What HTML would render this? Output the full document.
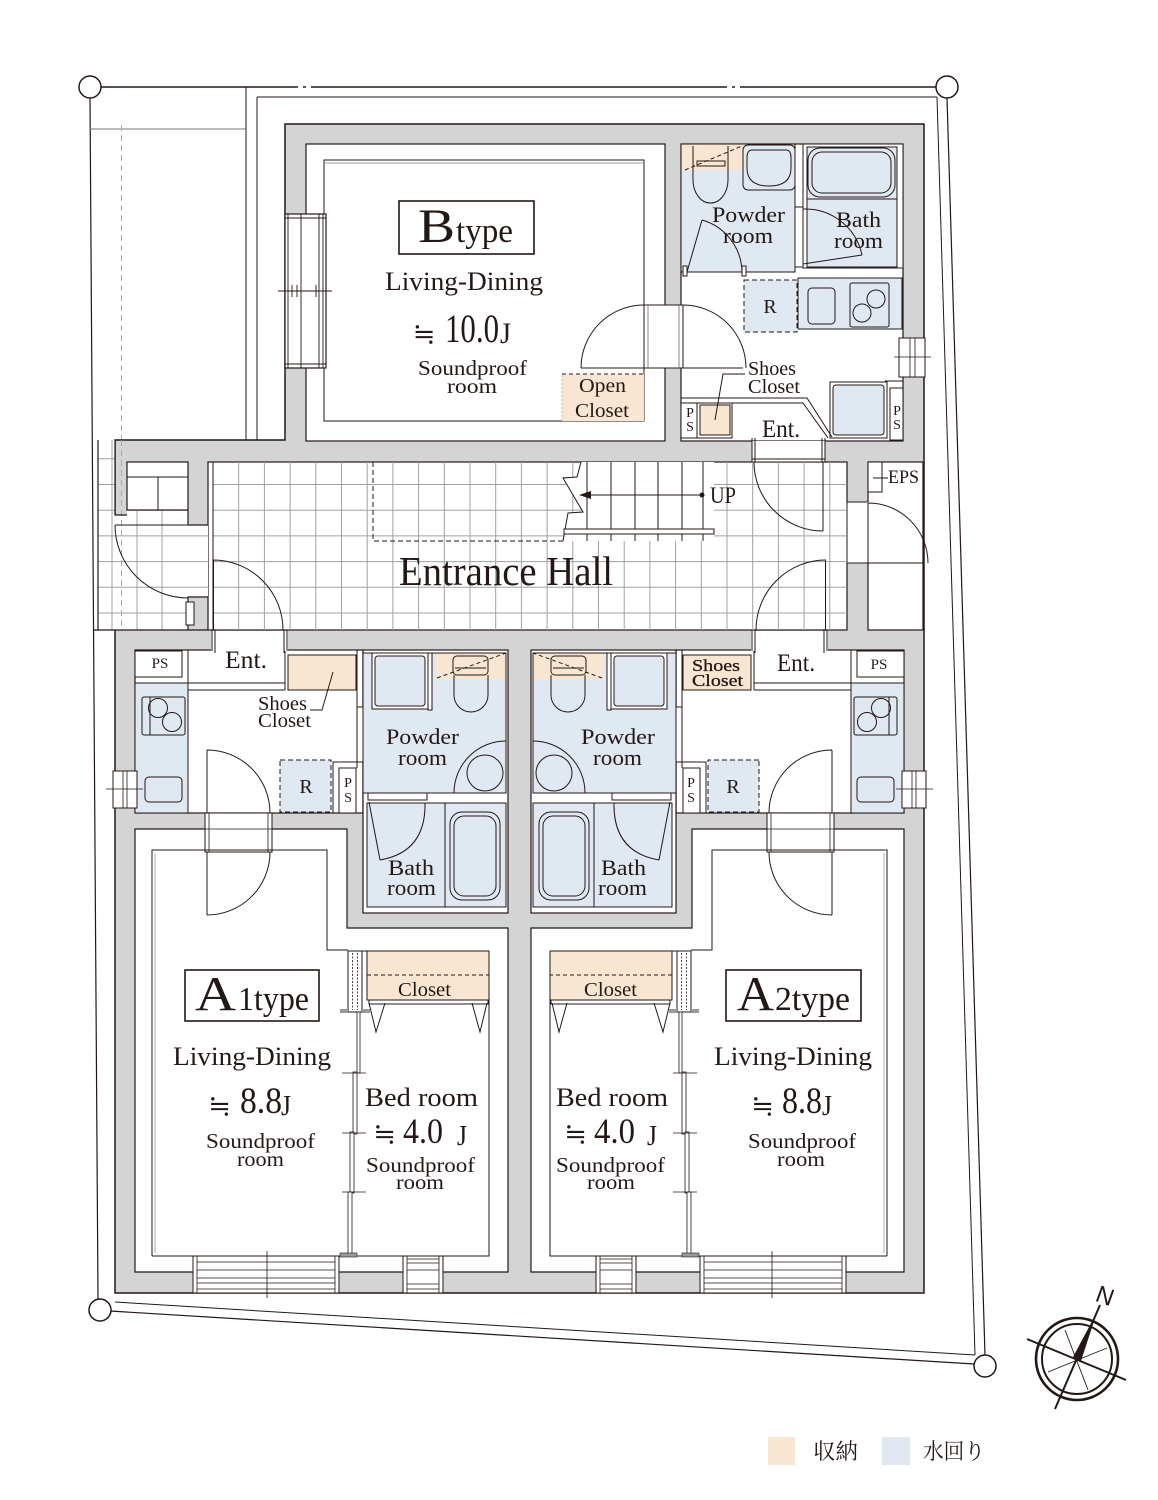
<!DOCTYPE html>
<html><head><meta charset="utf-8"><title>Floor plan</title>
<style>
html,body{margin:0;padding:0;background:#fff;width:1158px;height:1500px;overflow:hidden}
svg{display:block}
text{font-family:"Liberation Serif","Noto Serif CJK SC",serif;fill:#231815}
.eq{font-family:"Noto Serif CJK SC","DejaVu Serif",serif}
</style></head><body>
<svg xmlns="http://www.w3.org/2000/svg" width="1158" height="1500" viewBox="0 0 1158 1500">
<defs>
<clipPath id="hallclip"><rect x="213" y="462" width="634" height="168"/></clipPath>
<clipPath id="leftclip"><polygon points="98,440 115,440 115,515 127,515 127,510 188,510 188,525 208,525 208,597 188,597 188,630 98,630"/></clipPath>
</defs>

<!-- SITE LINES -->
<g fill="none" stroke="#231815">
<path d="M101,87 H298 M303,87 H306 M311,87 H727 M732,87 H735 M740,87 H936" stroke-width="1.4"/>
<path d="M257,97 H937" stroke-width="1"/>
<path d="M90,98 L98,1299" stroke-width="1.2"/>
<path d="M246,87 V440 M257,97 V440" stroke-width="1"/>
<path d="M90,129 H246" stroke="#777" stroke-width="1"/>
<path d="M121.5,125 V630" stroke="#aaa" stroke-dasharray="6,4" stroke-width="1"/>
<path d="M115,1302 L975,1355" stroke-width="1"/>
<path d="M110,1311 L974,1364" stroke-width="1.2"/>
<path d="M937,97 L975,1355" stroke-width="1"/>
<path d="M947,98 L985,1355" stroke-width="1.2"/>
</g>
<g fill="#fff" stroke="#231815" stroke-width="1.5">
<circle cx="90" cy="87" r="11"/>
<circle cx="947" cy="87" r="11"/>
<circle cx="100" cy="1310" r="11"/>
<circle cx="985" cy="1366" r="11"/>
</g>

<!-- BUILDING GREY -->
<path d="M285,124 H924 V1293 H115 V440 H285 Z" fill="#d4d4d5" stroke="#231815" stroke-width="1.5"/>

<!-- B UNIT ROOMS -->
<g fill="#fff" stroke="#231815" stroke-width="1.2">
<rect x="306" y="144" width="359" height="297"/>
<rect x="681" y="144" width="222" height="297"/>
</g>

<!-- B living lining -->
<rect x="324" y="160" width="320" height="261" fill="none" stroke="#231815" stroke-width="1"/>
<line x1="324" y1="163" x2="644" y2="163" stroke="#999" stroke-width="1"/>
<!-- open closet -->
<rect x="562" y="374" width="82" height="47" fill="#f8e6d2"/>
<path d="M562,374 H644" stroke="#231815" stroke-dasharray="4,3" fill="none"/>
<path d="M562,375 V421" stroke="#bbb" stroke-dasharray="2,2" fill="none"/>
<!-- B left window -->
<rect x="285" y="214" width="41" height="154" fill="#fff" stroke="#231815" stroke-width="1.2"/>
<path d="M288,214 V368 M301,214 V368 M319,214 V368 M323,214 V368 M285,218 H326 M285,364 H326 M278,291 H332 M292,285 V297 M297,285 V297 M316,285 V297" stroke="#231815" stroke-width="0.9" fill="none"/>
<!-- B door living/wet -->
<rect x="644" y="305" width="39" height="63" fill="#fff" stroke="#231815" stroke-width="1"/>
<path d="M648,305 V368 M679,305 V368" stroke="#666" stroke-width="0.8" fill="none"/>
<path d="M644,368 H581 M581,368 A63,63 0 0 1 644,305 M683,368 H743 M683,305 A63,63 0 0 1 746,368" stroke="#231815" stroke-width="1" fill="none"/>

<!-- B wet -->
<g stroke="#231815" stroke-width="1" fill="none">
<rect x="681" y="144" width="114" height="128" fill="#e0e8f2"/>
<rect x="681.6" y="144.6" width="61" height="25.4" fill="#f8e6d2" stroke="none"/>
<path d="M693,146 V180 A17.5,23 0 0 0 728,180 V146"/>
<rect x="697" y="161" width="28" height="5"/>
<path d="M685,170 L742,146" stroke-dasharray="4,3"/>
<rect x="743" y="145" width="52" height="45" rx="5"/>
<path d="M752,150 H786 Q791,150 791,158 V168 Q791,186 769,186 Q747,186 747,168 V158 Q747,150 752,150 Z"/>
<path d="M687,272 L702,220 M702,220 A55,55 0 0 1 742,272"/>
<rect x="683" y="266" width="4" height="10" fill="#fff"/>
<rect x="742" y="266" width="4" height="10" fill="#fff"/>
<rect x="803" y="144" width="100" height="124" fill="#fff"/>
<rect x="807" y="147" width="90" height="120" fill="#e0e8f2"/>
<rect x="808" y="148" width="87" height="49" rx="12"/>
<rect x="812" y="152" width="79" height="41" rx="10"/>
<line x1="807" y1="199" x2="897" y2="199"/>
<rect x="795" y="207" width="8" height="60" fill="#fff"/>
<path d="M803,264 L862,255 M803,209 A58,58 0 0 1 862,255"/>
<rect x="744" y="280" width="53" height="52" fill="#e0e8f2" stroke-dasharray="5,3"/>
<rect x="798" y="278" width="104" height="51" fill="#e0e8f2"/>
<rect x="808" y="288" width="27" height="36" rx="4"/>
<rect x="850" y="283" width="39" height="44" rx="2"/>
<circle cx="876" cy="299" r="9"/>
<circle cx="862" cy="313" r="9"/>
<rect x="899" y="338" width="26" height="39" fill="#fff"/>
<path d="M910,338 V377 M915,338 V377 M894,357 H931" stroke-width="0.8"/>
<rect x="890" y="388" width="13" height="52" fill="#fff"/>
<path d="M885,381 H903"/>
<rect x="830" y="382" width="57" height="56" fill="#fff"/>
<rect x="833" y="385" width="51" height="50" rx="3" fill="#e0e8f2"/>
<rect x="681" y="403" width="16" height="35" fill="#fff"/>
<rect x="697" y="403" width="35" height="35" fill="#fff"/>
<rect x="700" y="405" width="30" height="30" fill="#f8e6d2"/>
<path d="M681,398 H807 L832,437 M732,403 H803 L828,438"/>
<path d="M745,374 H723 L715,420"/>
</g>

<!-- HALL -->
<rect x="208" y="462" width="639" height="168" fill="#fff" stroke="#231815" stroke-width="1.2"/>
<path d="M238.7,462V630M264.4,462V630M290.1,462V630M315.8,462V630M341.5,462V630M367.2,462V630M392.9,462V630M418.6,462V630M444.3,462V630M470,462V630M495.7,462V630M521.4,462V630M547.1,462V630M572.8,462V630M598.5,462V630M624.2,462V630M649.9,462V630M675.6,462V630M701.3,462V630M727,462V630M752.7,462V630M778.4,462V630M804.1,462V630M829.8,462V630M213,484.5H847M213,510.2H847M213,535.9H847M213,561.6H847M213,587.3H847M213,613H847" stroke="#a0a0a0" stroke-width="1" fill="none" clip-path="url(#hallclip)"/>
<path d="M213,462 V630" stroke="#231815" stroke-width="1"/>
<!-- left outdoor tile area -->
<polygon points="98,440 115,440 115,515 127,515 127,510 188,510 188,525 208,525 208,597 188,597 188,630 98,630" fill="#fff"/>
<path d="M112,440V630M137,440V630M162,440V630M98,458.8H208M98,484.5H208M98,510.2H208M98,535.9H208M98,561.6H208M98,587.3H208M98,613H208" stroke="#a0a0a0" stroke-width="1" fill="none" clip-path="url(#leftclip)"/>
<path d="M121.5,440 V630" stroke="#aaa" stroke-dasharray="6,4" fill="none"/>
<g stroke="#231815" stroke-width="1.2" fill="none">
<path d="M98,440 V630 M115,440 V515 H127 M188,510 V525 H208 M208,597 H188 V630 M93,630 H208"/>
<rect x="127" y="462" width="61" height="48" fill="#fff"/>
<path d="M127,477 H188 M158,477 V510" stroke-width="1"/>
<path d="M115,525 H188 M115,525 A73,73 0 0 0 188,598" stroke-width="1"/>
<rect x="186" y="602" width="8" height="23" fill="#fff" stroke-width="1"/>
</g>
<!-- stairs -->
<polygon points="581,462 714,462 714,541 563,541 568,513 583,512 563,478 577,477" fill="#fff"/>
<g stroke="#231815" stroke-width="1" fill="none">
<path d="M587,462 V541 M611,462 V541 M635,462 V541 M658,462 V541 M682,462 V541 M703,462 V541"/>
<path d="M581,462 L577,477 L563,478 L583,512 L568,513 L563,541"/>
<rect x="564" y="529" width="150" height="5" fill="#fff"/>
<path d="M373,462 V541 H563" stroke-dasharray="5,3"/>
<path d="M588,495 H702"/>
</g>
<polygon points="579,495 591,491 591,499" fill="#231815"/>
<circle cx="702" cy="495" r="2.5" fill="#231815"/>
<!-- B entrance opening -->
<rect x="752" y="441" width="73" height="20.5" fill="#fff"/>
<path d="M752,438 V462 M755,438 V462 M822,438 V462 M825,438 V462 M752,459 H825" stroke="#231815" stroke-width="1" fill="none"/>
<path d="M754,462 A69,69 0 0 0 823,531 M823,462 V531" stroke="#231815" stroke-width="1" fill="none"/>
<!-- right region -->
<rect x="868" y="462" width="55" height="168" fill="#fff" stroke="#231815" stroke-width="1.2"/>
<rect x="846" y="502" width="23" height="61" fill="#fff"/>
<path d="M847,502 H868 M847,563 H923 M847,502 V563" stroke="#231815" stroke-width="1" fill="none"/>
<rect x="868" y="462" width="14" height="30" fill="#fff" stroke="#231815" stroke-width="1"/>
<path d="M873,478 H888" stroke="#231815" stroke-width="1"/>
<path d="M868,503 A60,60 0 0 1 928,563 M868,503 V563" stroke="#231815" stroke-width="1" fill="none"/>

<!-- A UNIT (A1), mirrored for A2 -->
<g id="ua">
<g fill="#fff" stroke="#231815" stroke-width="1.2">
<rect x="135" y="650" width="228" height="163"/>
<rect x="363" y="650" width="145" height="263"/>
<path d="M135,829 H347 V928 H508 V1272 H135 Z"/>
</g>
<rect x="211" y="631" width="77" height="20" fill="#fff"/>
<g stroke="#231815" stroke-width="1" fill="none">
<path d="M212,630 V651 M215,630 V653 M284,630 V653 M287,630 V651"/>
<path d="M213,560 A70,70 0 0 1 283,630 M213.5,560 V630"/>
<rect x="135" y="651" width="47" height="26" fill="#fff"/>
<rect x="135" y="683" width="53" height="130" fill="#e0e8f2"/>
<rect x="142" y="697" width="43" height="38" rx="2"/>
<path d="M150,697 V735"/>
<circle cx="158" cy="708" r="9.5"/>
<circle cx="172" cy="722" r="9.5"/>
<rect x="145" y="777" width="37" height="25" rx="4"/>
<rect x="113" y="771" width="24" height="37" fill="#fff"/>
<path d="M123,771 V808 M127,771 V808 M106,789 H143" stroke-width="0.8"/>
<path d="M188,650 V690 M188,683 H285 M188,690 H285 M285,651 V690"/>
<rect x="288" y="655" width="68" height="35" fill="#f8e6d2"/>
<path d="M357,650 V707 M357,762 V768"/>
<rect x="357" y="707" width="6" height="55" fill="#fff"/>
<path d="M366,655 V707" stroke="#555" stroke-dasharray="3,2"/>
<rect x="280" y="760" width="51" height="52" fill="#e0e8f2" stroke-dasharray="5,3"/>
<path d="M333,813 V762 H357"/>
<rect x="339" y="768" width="17" height="45" fill="#fff"/>
<rect x="363" y="653" width="143" height="140" fill="#e0e8f2"/>
<rect x="435.5" y="653.5" width="70" height="25.5" fill="#f8e6d2" stroke="none"/>
<rect x="453" y="656" width="35" height="19" rx="4"/>
<path d="M455,668 H486"/>
<path d="M454,675 V695 A17,17 0 0 0 488,695 V675"/>
<path d="M437,678 L506,653" stroke-dasharray="4,3"/>
<rect x="372" y="653" width="56" height="56" fill="#fff"/>
<rect x="375" y="656" width="50" height="50" rx="3" fill="#e0e8f2"/>
<rect x="428" y="653" width="4" height="57" fill="#fff"/>
<path d="M454,793 A52,52 0 0 1 506,741"/>
<circle cx="485" cy="773" r="18"/>
<rect x="367" y="803" width="139" height="104" fill="#e0e8f2"/>
<path d="M445,803 V907"/>
<rect x="450" y="812" width="50" height="88" rx="12"/>
<rect x="454" y="816" width="42" height="80" rx="10"/>
<rect x="368" y="793" width="59" height="7" fill="#fff"/>
<path d="M369,802 L380,860 M425,803 Q426,852 380,860"/>
<rect x="205" y="813" width="67" height="39" fill="#fff"/>
<path d="M205,829 H272 M209,813 V852 M268,813 V852" stroke-width="0.8"/>
<path d="M207,750 V813 M207,750 A63,63 0 0 1 270,813 M207,852 V915 M270,852 A63,63 0 0 1 207,915"/>
<path d="M152,1256 V850 H327 V950 H348"/>
<path d="M155,853 V1253" stroke="#999" stroke-width="0.8"/>
<path d="M362,951 H489 V1256 H152"/>
<rect x="367" y="951" width="122" height="49" fill="#f8e6d2"/>
<path d="M367,975 H489" stroke-dasharray="4,3"/>
<rect x="369" y="1000" width="119" height="4" fill="#fff"/>
<path d="M369,1003 L376,1032 L385,1003 M472,1003 L480,1032 L487,1003"/>
<rect x="348" y="951" width="14" height="61" fill="#fff"/>
<path d="M352.5,953 V1010 M357.5,953 V1010" stroke-dasharray="2,1.5" stroke-width="0.8"/>
<rect x="340" y="1009" width="8" height="4" fill="#999" stroke="none"/>
<rect x="362" y="1009" width="8" height="4" fill="#999" stroke="none"/>
<rect x="357" y="1012" width="3" height="61" fill="#fff" stroke-width="0.8"/>
<rect x="353" y="1072" width="4" height="62" fill="#fff" stroke-width="0.8"/>
<rect x="350" y="1132" width="4" height="61" fill="#fff" stroke-width="0.8"/>
<rect x="348" y="1192" width="4" height="62" fill="#fff" stroke-width="0.8"/>
<path d="M342,1073 H366 M342,1133 H366 M342,1192 H366" stroke-width="0.8"/>
<rect x="340" y="1253" width="17" height="4" fill="#999" stroke-width="0.6"/>
<rect x="193" y="1256" width="146" height="37" fill="#fff"/>
<path d="M197,1256 V1293 M335,1256 V1293 M197,1262 H335 M197,1270 H335 M197,1278 H335 M197,1283 H335 M197,1289 H335 M267,1251 V1298" stroke-width="0.8"/>
<rect x="403" y="1256" width="40" height="37" fill="#fff"/>
<path d="M407,1256 V1293 M439,1256 V1293 M407,1259 H439 M407,1263 H439 M407,1270 H439 M407,1284 H439 M407,1289 H439" stroke-width="0.8"/>
</g>
</g>
<use href="#ua" transform="matrix(-1,0,0,1,1039,0)"/>
<!-- A1 shoes leader -->
<path d="M333,672 L322,710 L310,710" stroke="#231815" stroke-width="1" fill="none"/>

<!-- TEXTS : B -->
<rect x="399" y="201" width="135" height="53" fill="none" stroke="#231815" stroke-width="1.6"/>
<text x="418" y="242" font-size="48" textLength="37" lengthAdjust="spacingAndGlyphs">B</text>
<text x="456" y="242" font-size="34" textLength="57" lengthAdjust="spacingAndGlyphs">type</text>
<text x="385" y="290" font-size="26" textLength="158" lengthAdjust="spacingAndGlyphs">Living-Dining</text>
<text x="424" y="343" font-size="27" text-anchor="middle" class="eq">≒</text>
<text x="445" y="342" font-size="40" textLength="54" lengthAdjust="spacingAndGlyphs">10.0</text>
<text x="500" y="343" font-size="30" textLength="11" lengthAdjust="spacingAndGlyphs">J</text>
<text x="418" y="375" font-size="21" textLength="109" lengthAdjust="spacingAndGlyphs">Soundproof</text>
<text x="447" y="393" font-size="21" textLength="50" lengthAdjust="spacingAndGlyphs">room</text>
<text x="579" y="392" font-size="20" textLength="47" lengthAdjust="spacingAndGlyphs">Open</text>
<text x="575" y="417" font-size="20" textLength="54" lengthAdjust="spacingAndGlyphs">Closet</text>
<text x="712" y="222" font-size="22" textLength="73" lengthAdjust="spacingAndGlyphs">Powder</text>
<text x="723" y="243" font-size="22" textLength="50" lengthAdjust="spacingAndGlyphs">room</text>
<text x="836" y="227" font-size="22" textLength="45" lengthAdjust="spacingAndGlyphs">Bath</text>
<text x="834" y="248" font-size="22" textLength="49" lengthAdjust="spacingAndGlyphs">room</text>
<text x="770" y="313" font-size="20" text-anchor="middle">R</text>
<text x="748" y="375" font-size="20" textLength="48" lengthAdjust="spacingAndGlyphs">Shoes</text>
<text x="748" y="393" font-size="20" textLength="52" lengthAdjust="spacingAndGlyphs">Closet</text>
<text x="762" y="437" font-size="25" textLength="38" lengthAdjust="spacingAndGlyphs">Ent.</text>
<text x="690" y="417" font-size="14" text-anchor="middle">P</text>
<text x="690" y="431" font-size="14" text-anchor="middle">S</text>
<text x="897" y="415" font-size="14" text-anchor="middle">P</text>
<text x="897" y="429" font-size="14" text-anchor="middle">S</text>

<!-- Hall texts -->
<text x="399" y="585" font-size="41" textLength="214" lengthAdjust="spacingAndGlyphs">Entrance Hall</text>
<text x="710" y="503" font-size="23" textLength="26" lengthAdjust="spacingAndGlyphs">UP</text>
<text x="888" y="483" font-size="19" textLength="31" lengthAdjust="spacingAndGlyphs">EPS</text>

<!-- A1 texts -->
<text x="160" y="668" font-size="15" text-anchor="middle">PS</text>
<text x="225" y="668" font-size="25" textLength="42" lengthAdjust="spacingAndGlyphs">Ent.</text>
<text x="258" y="710" font-size="20" textLength="49" lengthAdjust="spacingAndGlyphs">Shoes</text>
<text x="258" y="727" font-size="20" textLength="53" lengthAdjust="spacingAndGlyphs">Closet</text>
<text x="386" y="744" font-size="22" textLength="73" lengthAdjust="spacingAndGlyphs">Powder</text>
<text x="398" y="765" font-size="22" textLength="49" lengthAdjust="spacingAndGlyphs">room</text>
<text x="306" y="793" font-size="20" text-anchor="middle">R</text>
<text x="348" y="787" font-size="14" text-anchor="middle">P</text>
<text x="348" y="802" font-size="14" text-anchor="middle">S</text>
<text x="388" y="875" font-size="22" textLength="46" lengthAdjust="spacingAndGlyphs">Bath</text>
<text x="387" y="895" font-size="22" textLength="49" lengthAdjust="spacingAndGlyphs">room</text>
<rect x="185" y="970" width="134" height="51" fill="none" stroke="#231815" stroke-width="1.6"/>
<text x="195" y="1010" font-size="49" textLength="41" lengthAdjust="spacingAndGlyphs">A</text>
<text x="238" y="1010" font-size="34" textLength="71" lengthAdjust="spacingAndGlyphs">1type</text>
<text x="173" y="1065" font-size="26" textLength="158" lengthAdjust="spacingAndGlyphs">Living-Dining</text>
<text x="219.5" y="1115" font-size="27" text-anchor="middle" class="eq">≒</text>
<text x="240" y="1113" font-size="37" textLength="42" lengthAdjust="spacingAndGlyphs">8.8</text>
<text x="281" y="1115" font-size="28" textLength="10" lengthAdjust="spacingAndGlyphs">J</text>
<text x="206" y="1148" font-size="21" textLength="109" lengthAdjust="spacingAndGlyphs">Soundproof</text>
<text x="237" y="1166" font-size="21" textLength="47" lengthAdjust="spacingAndGlyphs">room</text>
<text x="398" y="996" font-size="20" textLength="53" lengthAdjust="spacingAndGlyphs">Closet</text>
<text x="365" y="1106" font-size="26" textLength="113" lengthAdjust="spacingAndGlyphs">Bed room</text>
<text x="384.5" y="1143" font-size="27" text-anchor="middle" class="eq">≒</text>
<text x="403" y="1143" font-size="36" textLength="40" lengthAdjust="spacingAndGlyphs">4.0</text>
<text x="457" y="1145" font-size="28" textLength="10" lengthAdjust="spacingAndGlyphs">J</text>
<text x="366" y="1172" font-size="21" textLength="109" lengthAdjust="spacingAndGlyphs">Soundproof</text>
<text x="396" y="1189" font-size="21" textLength="48" lengthAdjust="spacingAndGlyphs">room</text>

<!-- A2 texts -->
<text x="879" y="669" font-size="15" text-anchor="middle">PS</text>
<text x="777" y="671" font-size="25" textLength="38" lengthAdjust="spacingAndGlyphs">Ent.</text>
<text x="692" y="671" font-size="17" textLength="48" lengthAdjust="spacingAndGlyphs" stroke="#231815" stroke-width="0.3">Shoes</text>
<text x="692" y="686" font-size="17" textLength="51" lengthAdjust="spacingAndGlyphs" stroke="#231815" stroke-width="0.3">Closet</text>
<text x="581" y="744" font-size="22" textLength="74" lengthAdjust="spacingAndGlyphs">Powder</text>
<text x="593" y="765" font-size="22" textLength="49" lengthAdjust="spacingAndGlyphs">room</text>
<text x="733" y="793" font-size="20" text-anchor="middle">R</text>
<text x="691" y="787" font-size="14" text-anchor="middle">P</text>
<text x="691" y="802" font-size="14" text-anchor="middle">S</text>
<text x="601" y="875" font-size="22" textLength="45" lengthAdjust="spacingAndGlyphs">Bath</text>
<text x="598" y="895" font-size="22" textLength="49" lengthAdjust="spacingAndGlyphs">room</text>
<rect x="726" y="970" width="135" height="51" fill="none" stroke="#231815" stroke-width="1.6"/>
<text x="737" y="1010" font-size="49" textLength="37" lengthAdjust="spacingAndGlyphs">A</text>
<text x="775" y="1010" font-size="34" textLength="75" lengthAdjust="spacingAndGlyphs">2type</text>
<text x="714" y="1065" font-size="26" textLength="158" lengthAdjust="spacingAndGlyphs">Living-Dining</text>
<text x="762.5" y="1115" font-size="27" text-anchor="middle" class="eq">≒</text>
<text x="782" y="1113" font-size="37" textLength="40" lengthAdjust="spacingAndGlyphs">8.8</text>
<text x="822" y="1115" font-size="28" textLength="10" lengthAdjust="spacingAndGlyphs">J</text>
<text x="748" y="1148" font-size="21" textLength="108" lengthAdjust="spacingAndGlyphs">Soundproof</text>
<text x="777" y="1166" font-size="21" textLength="48" lengthAdjust="spacingAndGlyphs">room</text>
<text x="584" y="996" font-size="20" textLength="53" lengthAdjust="spacingAndGlyphs">Closet</text>
<text x="556" y="1106" font-size="26" textLength="112" lengthAdjust="spacingAndGlyphs">Bed room</text>
<text x="575.5" y="1143" font-size="27" text-anchor="middle" class="eq">≒</text>
<text x="594" y="1143" font-size="36" textLength="41" lengthAdjust="spacingAndGlyphs">4.0</text>
<text x="647" y="1145" font-size="28" textLength="10" lengthAdjust="spacingAndGlyphs">J</text>
<text x="556" y="1172" font-size="21" textLength="109" lengthAdjust="spacingAndGlyphs">Soundproof</text>
<text x="587" y="1189" font-size="21" textLength="48" lengthAdjust="spacingAndGlyphs">room</text>

<!-- COMPASS -->
<g stroke="#231815" fill="none">
<circle cx="1077" cy="1359" r="41" stroke-width="2.6"/>
<circle cx="1077" cy="1359" r="35" stroke-width="2"/>
<line x1="1055" y1="1409" x2="1100" y2="1305" stroke-width="2"/>
<line x1="1027" y1="1339" x2="1126" y2="1380" stroke-width="2"/>
<line x1="1065" y1="1330" x2="1088" y2="1390" stroke-width="0.9"/>
<line x1="1048" y1="1372" x2="1107" y2="1348" stroke-width="0.9"/>
</g>
<polygon points="1073,1357 1081,1361 1097,1312" fill="#231815"/>
<text x="1105" y="1304" font-size="24" text-anchor="middle" transform="rotate(20 1105 1296)" style="font-family:'Liberation Sans',sans-serif">N</text>

<!-- LEGEND -->
<rect x="768" y="1437" width="27" height="28" fill="#f8e6d2"/>
<text x="813" y="1459" font-size="22" textLength="45" lengthAdjust="spacingAndGlyphs">収納</text>
<rect x="882" y="1437" width="28" height="28" fill="#e0e8f2"/>
<text x="923" y="1459" font-size="22" textLength="62" lengthAdjust="spacingAndGlyphs">水回り</text>
</svg>
</body></html>
